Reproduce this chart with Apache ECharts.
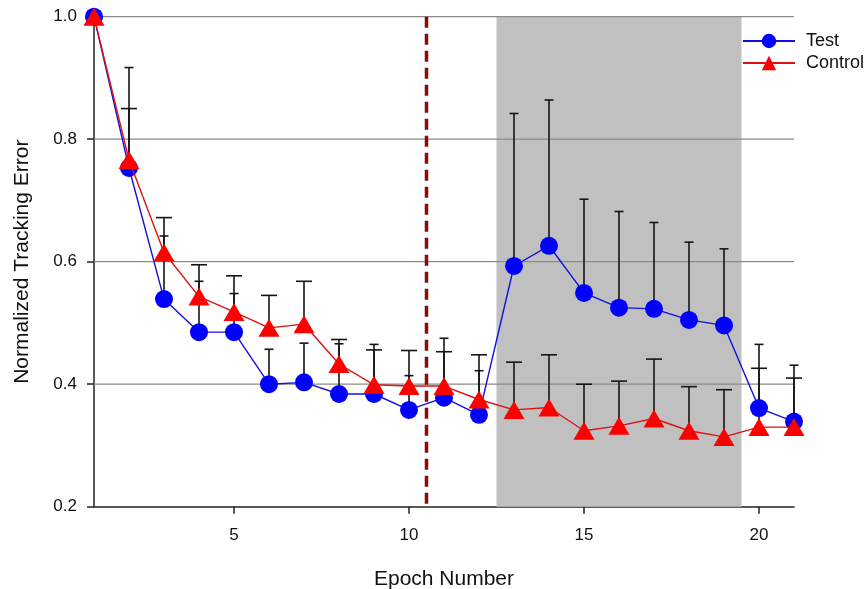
<!DOCTYPE html>
<html>
<head>
<meta charset="utf-8">
<script src="https://cdn.jsdelivr.net/npm/echarts@6/dist/echarts.min.js"></script>
<style>html,body{margin:0;padding:0;background:#fff;}#c{width:868px;height:589px;}</style>
</head>
<body>
<div id="c"></div>
<script>
var epochs = [1,2,3,4,5,6,7,8,9,10,11,12,13,14,15,16,17,18,19,20,21];
var testMean = [1.0,0.753,0.539,0.485,0.485,0.400,0.403,0.384,0.384,0.358,0.378,0.350,0.593,0.626,0.549,0.525,0.523,0.505,0.496,0.361,0.339];
var testUpper = [null,0.917,0.642,0.568,0.548,0.457,0.467,0.466,0.465,0.414,0.475,0.422,0.842,0.864,0.702,0.682,0.664,0.632,0.621,0.465,0.431];
var controlMean = [1.0,0.766,0.615,0.543,0.518,0.492,0.498,0.433,0.399,0.397,0.397,0.375,0.358,0.362,0.324,0.332,0.344,0.324,0.314,0.330,0.330];
var controlUpper = [null,0.850,0.672,0.595,0.577,0.545,0.568,0.473,0.456,0.455,0.453,0.448,0.436,0.448,0.400,0.405,0.441,0.396,0.391,0.426,0.410];
var xTicks = [5,10,15,20];
var yTicks = [0.2,0.4,0.6,0.8,1.0];
var yGridLines = [0.4,0.6,0.8,1.0];
var shadeRange = [[12.5,19.5]];
var dividerX = [[10.5]];
var xMin = 1, xMax = 21, yMin = 0.2, yMax = 1.0;

function pairs(xs, ys){ var r=[]; for(var i=0;i<xs.length;i++){ r.push([xs[i], ys[i]]); } return r; }
function errData(xs, m, u){ var r=[]; for(var i=0;i<xs.length;i++){ if(u[i]!=null) r.push([xs[i], m[i], u[i]]); } return r; }

var font = '"Liberation Sans", Arial, sans-serif';
var chart = echarts.init(document.getElementById('c'), null, {renderer:'canvas'});

function makeErrRender(halfCap){
  return function(params, api){
    var x = api.value(0), lo = api.value(1), hi = api.value(2);
    var p0 = api.coord([x, lo]), p1 = api.coord([x, hi]);
    return {type:'group', children:[
      {type:'line', shape:{x1:p0[0], y1:p0[1], x2:p1[0], y2:p1[1]}, style:{stroke:'#151515', lineWidth:1.6}},
      {type:'line', shape:{x1:p1[0]-halfCap, y1:p1[1], x2:p1[0]+halfCap, y2:p1[1]}, style:{stroke:'#151515', lineWidth:1.6}}
    ]};
  };
}

var option = {
  animation:false,
  backgroundColor:'#fff',
  grid:{left:94, right:74, top:16.7, bottom:82.3, containLabel:false, outerBoundsMode:'none'},
  legend:{
    data:['Test','Control'], orient:'vertical', left:737, top:27,
    itemWidth:52, itemHeight:18, itemGap:4,
    textStyle:{fontFamily:font, fontSize:18, color:'#111', lineHeight:18, padding:[0,0,0,6]}
  },
  xAxis:{
    type:'value', min:xMin, max:xMax,
    name:'Epoch Number', nameLocation:'middle', nameGap:62,
    nameTextStyle:{fontFamily:font, fontSize:21, color:'#111'},
    axisLine:{show:true, lineStyle:{color:'#222', width:1.5}},
    axisTick:{show:true, customValues:xTicks, length:7, lineStyle:{color:'#222', width:1.5}},
    axisLabel:{customValues:xTicks, fontFamily:font, fontSize:17, color:'#111', margin:20},
    splitLine:{show:false}
  },
  yAxis:{
    type:'value', min:yMin, max:yMax, interval:0.2,
    name:'Normalized Tracking Error', nameLocation:'middle', nameGap:61,
    nameTextStyle:{fontFamily:font, fontSize:21, color:'#111'},
    axisLine:{show:true, lineStyle:{color:'#222', width:1.5}},
    axisTick:{show:true, length:7, lineStyle:{color:'#222', width:1.5}},
    axisLabel:{fontFamily:font, fontSize:17, color:'#111', margin:17, formatter:function(v){return v.toFixed(1);}},
    splitLine:{show:false}
  },
  series:[
    {name:'shade', type:'custom', z:1, silent:true, data:shadeRange,
      renderItem:function(params, api){
        var a = api.coord([api.value(0), yMax]), b = api.coord([api.value(1), yMin]);
        return {type:'rect', shape:{x:a[0], y:a[1], width:b[0]-a[0], height:b[1]-a[1]}, style:{fill:'#c0c0c0'}};
      }},
    {name:'gridlines', type:'custom', z:2, silent:true, data:yGridLines.map(function(v){return [v];}),
      renderItem:function(params, api){
        var v = api.value(0);
        var a = api.coord([xMin, v]), b = api.coord([xMax, v]);
        return {type:'line', shape:{x1:a[0], y1:a[1], x2:b[0], y2:b[1]}, style:{stroke:'#8a8a8a', lineWidth:1.2}};
      }},
    {name:'divider', type:'custom', z:3, silent:true, data:dividerX,
      renderItem:function(params, api){
        var a = api.coord([api.value(0), yMax]), b = api.coord([api.value(0), yMin]);
        return {type:'line', shape:{x1:a[0], y1:a[1], x2:b[0], y2:b[1]}, style:{stroke:'#8b0a0a', lineWidth:3.5, lineDash:[11,6]}};
      }},
    {name:'testErr', type:'custom', z:4, silent:true, data:errData(epochs, testMean, testUpper), renderItem:makeErrRender(4.5)},
    {name:'controlErr', type:'custom', z:4, silent:true, data:errData(epochs, controlMean, controlUpper), renderItem:makeErrRender(8)},
    {name:'Test', type:'line', z:5, data:pairs(epochs, testMean),
      symbol:'circle', symbolSize:18,
      lineStyle:{color:'#1010e0', width:1.4},
      itemStyle:{color:'#0000ff', borderWidth:0}},
    {name:'Control', type:'line', z:6, data:pairs(epochs, controlMean),
      symbol:'triangle', symbolSize:[21,18],
      lineStyle:{color:'#e01010', width:1.4},
      itemStyle:{color:'#ff0000', borderWidth:0}}
  ]
};
chart.setOption(option);
</script>
</body>
</html>
